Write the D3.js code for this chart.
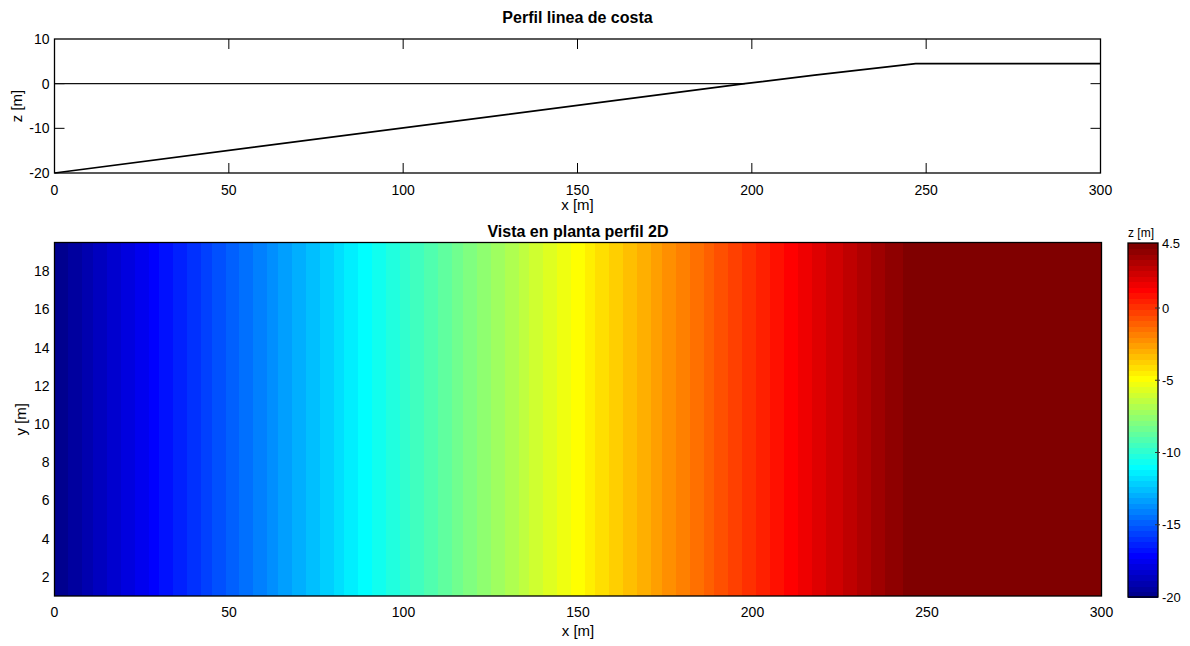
<!DOCTYPE html>
<html>
<head>
<meta charset="utf-8">
<script src="https://cdn.jsdelivr.net/npm/d3@7"></script>
<style>
  html, body { margin: 0; padding: 0; background: #fff; }
  svg { display: block; font-family: "Liberation Sans", Arial, sans-serif; }
</style>
</head>
<body>
<svg id="chart" width="1190" height="646"></svg>
<script>
// Cross-shore profile breakpoints (x in m, z in m)
const profileX = [0, 198, 218, 247, 300];
const profileZ = [-20, 0, 1.9, 4.5, 4.5];
const seaLevel = 0;

// Axis ticks
const xTicks = [0, 50, 100, 150, 200, 250, 300];
const zTicks = [-20, -10, 0, 10];
const yTicks = [2, 4, 6, 8, 10, 12, 14, 16, 18];
const cbarTicks = [-20, -15, -10, -5, 0, 4.5];

// Extents
const xDomain = [0, 300];
const zDomain = [-20, 10];
const yDomain = [1, 19.5];
const colorDomain = [-20, 4.5];
const gridStep = 1; // plan-view cell width along x (m)

// MATLAB-style jet colormap with m entries
function jet(m) {
  const n = Math.ceil(m / 4);
  const u = [];
  for (let i = 1; i <= n; i++) u.push(i / n);
  for (let i = 0; i < n - 1; i++) u.push(1);
  for (let i = n; i >= 1; i--) u.push(i / n);
  const g0 = Math.ceil(n / 2) - (m % 4 === 1 ? 1 : 0);
  const cols = d3.range(m).map(() => [0, 0, 0]);
  u.forEach((v, k) => {
    const gi = g0 + k + 1, ri = gi + n, bi = gi - n;
    if (ri >= 1 && ri <= m) cols[ri - 1][0] = v;
    if (gi >= 1 && gi <= m) cols[gi - 1][1] = v;
    if (bi >= 1 && bi <= m) cols[bi - 1][2] = v;
  });
  return cols.map(c => d3.rgb(c[0] * 255, c[1] * 255, c[2] * 255).toString());
}
const jetColors = jet(64);
const colorScale = d3.scaleQuantize().domain(colorDomain).range(jetColors);

const svg = d3.select("#chart");
const tickFont = 14;
const labelFont = 15;
const titleFont = 16;
const ink = "#000";

// ---------- Top panel: profile ----------
const pTop = { left: 54.5, right: 1100.5, top: 39, bottom: 173 };
const xTop = d3.scaleLinear().domain(xDomain).range([pTop.left, pTop.right]);
const zTop = d3.scaleLinear().domain(zDomain).range([pTop.bottom, pTop.top]);
const profileFn = d3.scaleLinear().domain(profileX).range(profileZ);

const gTop = svg.append("g");

// ticks (inward, mirrored on all sides)
const tl = 10;
xTicks.slice(1, -1).forEach(t => {
  gTop.append("line").attr("x1", xTop(t)).attr("x2", xTop(t))
    .attr("y1", pTop.bottom).attr("y2", pTop.bottom - tl).attr("stroke", ink);
  gTop.append("line").attr("x1", xTop(t)).attr("x2", xTop(t))
    .attr("y1", pTop.top).attr("y2", pTop.top + tl).attr("stroke", ink);
});
zTicks.slice(1, -1).forEach(t => {
  gTop.append("line").attr("x1", pTop.left).attr("x2", pTop.left + tl)
    .attr("y1", zTop(t)).attr("y2", zTop(t)).attr("stroke", ink);
  gTop.append("line").attr("x1", pTop.right).attr("x2", pTop.right - tl)
    .attr("y1", zTop(t)).attr("y2", zTop(t)).attr("stroke", ink);
});

// sea level line up to the shoreline
const shoreX = profileX[profileZ.indexOf(seaLevel)];
gTop.append("line")
  .attr("x1", xTop(0)).attr("x2", xTop(shoreX))
  .attr("y1", zTop(seaLevel)).attr("y2", zTop(seaLevel))
  .attr("stroke", "#111").attr("stroke-width", 1.2);

// profile line
gTop.append("path")
  .datum(profileX.map((x, i) => [x, profileZ[i]]))
  .attr("fill", "none").attr("stroke", ink).attr("stroke-width", 1.7)
  .attr("d", d3.line().x(d => xTop(d[0])).y(d => zTop(d[1])));

// frame
gTop.append("rect")
  .attr("x", pTop.left).attr("y", pTop.top)
  .attr("width", pTop.right - pTop.left).attr("height", pTop.bottom - pTop.top)
  .attr("fill", "none").attr("stroke", ink).attr("stroke-width", 1.3);

// tick labels
gTop.selectAll(".xl").data(xTicks).join("text")
  .attr("x", d => xTop(d)).attr("y", pTop.bottom + 22)
  .attr("text-anchor", "middle").attr("font-size", tickFont).attr("fill", ink)
  .text(d => d);
gTop.selectAll(".zl").data(zTicks).join("text")
  .attr("x", pTop.left - 5).attr("y", d => zTop(d) + 5)
  .attr("text-anchor", "end").attr("font-size", tickFont).attr("fill", ink)
  .text(d => d);

gTop.append("text").attr("x", (pTop.left + pTop.right) / 2).attr("y", pTop.bottom + 37)
  .attr("text-anchor", "middle").attr("font-size", labelFont).attr("fill", ink)
  .text("x [m]");
gTop.append("text")
  .attr("transform", `translate(22,${(pTop.top + pTop.bottom) / 2}) rotate(-90)`)
  .attr("text-anchor", "middle").attr("font-size", labelFont).attr("fill", ink)
  .text("z [m]");
gTop.append("text").attr("x", (pTop.left + pTop.right) / 2).attr("y", 23)
  .attr("text-anchor", "middle").attr("font-size", titleFont).attr("font-weight", "bold")
  .attr("fill", ink).text("Perfil linea de costa");

// ---------- Bottom panel: plan view ----------
const pBot = { left: 54.5, right: 1101.5, top: 242.5, bottom: 596 };
const xBot = d3.scaleLinear().domain(xDomain).range([pBot.left, pBot.right]);
const yBot = d3.scaleLinear().domain(yDomain).range([pBot.bottom, pBot.top]);

const gBot = svg.append("g");
const cells = d3.range(xDomain[0], xDomain[1], gridStep);
gBot.selectAll("rect.cell").data(cells).join("rect")
  .attr("class", "cell")
  .attr("x", d => xBot(d))
  .attr("y", yBot(yDomain[1]))
  .attr("width", d => xBot(d + gridStep) - xBot(d) + 0.6)
  .attr("height", yBot(yDomain[0]) - yBot(yDomain[1]))
  .attr("fill", d => colorScale(profileFn(d + gridStep / 2)))
  .attr("shape-rendering", "crispEdges");

gBot.append("rect")
  .attr("x", pBot.left).attr("y", pBot.top)
  .attr("width", pBot.right - pBot.left).attr("height", pBot.bottom - pBot.top)
  .attr("fill", "none").attr("stroke", ink).attr("stroke-width", 1.3);

gBot.selectAll(".xl").data(xTicks).join("text")
  .attr("x", d => xBot(d)).attr("y", pBot.bottom + 21)
  .attr("text-anchor", "middle").attr("font-size", tickFont).attr("fill", ink)
  .text(d => d);
gBot.selectAll(".yl").data(yTicks).join("text")
  .attr("x", pBot.left - 5).attr("y", d => yBot(d) + 5)
  .attr("text-anchor", "end").attr("font-size", tickFont).attr("fill", ink)
  .text(d => d);

gBot.append("text").attr("x", (pBot.left + pBot.right) / 2).attr("y", pBot.bottom + 40)
  .attr("text-anchor", "middle").attr("font-size", labelFont).attr("fill", ink)
  .text("x [m]");
gBot.append("text")
  .attr("transform", `translate(26,${(pBot.top + pBot.bottom) / 2}) rotate(-90)`)
  .attr("text-anchor", "middle").attr("font-size", labelFont).attr("fill", ink)
  .text("y [m]");
gBot.append("text").attr("x", (pBot.left + pBot.right) / 2).attr("y", 237)
  .attr("text-anchor", "middle").attr("font-size", titleFont).attr("font-weight", "bold")
  .attr("fill", ink).text("Vista en planta perfil 2D");

// ---------- Colorbar ----------
const cb = { left: 1128, right: 1158, top: 243, bottom: 597 };
const cScale = d3.scaleLinear().domain(colorDomain).range([cb.bottom, cb.top]);
const step = (colorDomain[1] - colorDomain[0]) / jetColors.length;
const gCb = svg.append("g");
gCb.selectAll("rect.sw").data(jetColors).join("rect")
  .attr("class", "sw")
  .attr("x", cb.left)
  .attr("y", (d, i) => cScale(colorDomain[0] + (i + 1) * step))
  .attr("width", cb.right - cb.left)
  .attr("height", (d, i) => cScale(colorDomain[0] + i * step) - cScale(colorDomain[0] + (i + 1) * step) + 0.6)
  .attr("fill", d => d)
  .attr("shape-rendering", "crispEdges");
gCb.append("rect")
  .attr("x", cb.left).attr("y", cb.top)
  .attr("width", cb.right - cb.left).attr("height", cb.bottom - cb.top)
  .attr("fill", "none").attr("stroke", ink).attr("stroke-width", 1.3);
cbarTicks.slice(1, -1).forEach(t => {
  gCb.append("line").attr("x1", cb.right - 3).attr("x2", cb.right + 2)
    .attr("y1", cScale(t)).attr("y2", cScale(t)).attr("stroke", "#333");
});
gCb.selectAll(".cl").data(cbarTicks).join("text")
  .attr("x", cb.right + 4).attr("y", d => cScale(d) + 4.5)
  .attr("font-size", 13).attr("fill", ink)
  .text(d => d);
gCb.append("text").attr("x", 1141).attr("y", 237)
  .attr("text-anchor", "middle").attr("font-size", 12).attr("fill", ink)
  .text("z [m]");
</script>
</body>
</html>
